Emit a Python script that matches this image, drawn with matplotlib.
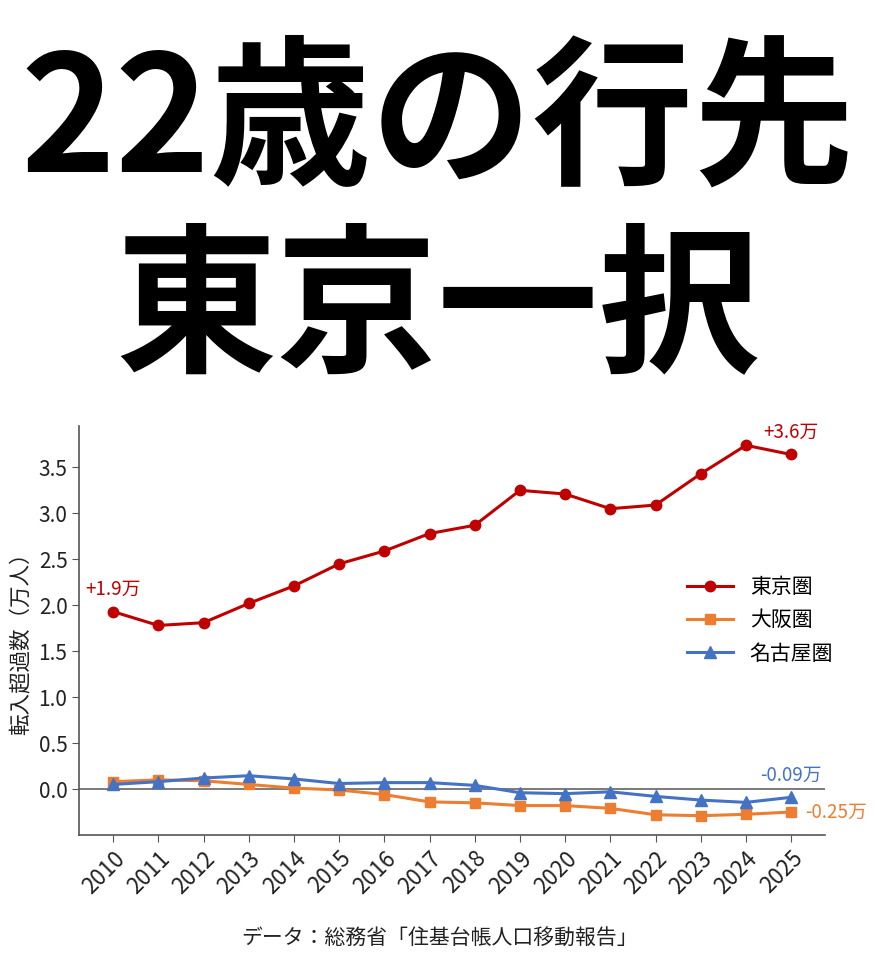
import numpy as np
import matplotlib
matplotlib.use("Agg")
import matplotlib.pyplot as plt

plt.rcParams['font.family'] = ['Noto Sans CJK JP', 'DejaVu Sans']

## data (unit: 10,000 people)
years = list(range(2010, 2026))
tokyo = [1.93, 1.78, 1.81, 2.02, 2.21, 2.45, 2.59, 2.78, 2.87, 3.25, 3.21, 3.05, 3.09, 3.43, 3.74, 3.64]
osaka = [0.08, 0.10, 0.09, 0.05, 0.01, -0.01, -0.06, -0.14, -0.15, -0.18, -0.18, -0.21, -0.28, -0.29, -0.275, -0.25]
nagoya = [0.05, 0.08, 0.12, 0.145, 0.11, 0.06, 0.07, 0.07, 0.04, -0.04, -0.05, -0.03, -0.08, -0.12, -0.145, -0.09]
series_names = ['東京圏', '大阪圏', '名古屋圏']
title_lines = ['22歳の行先', '東京一択']
ylabel = '転入超過数（万人）'
source = 'データ：総務省「住基台帳人口移動報告」'

RED = '#C00000'
ORANGE = '#ED7D31'
BLUE = '#4472C4'

fig = plt.figure(figsize=(8.75, 9.67), dpi=100)

## big headline
fig.text(0.5, 1 - 124/967, title_lines[0], ha='center', va='center', fontsize=116, fontweight='bold', color='black')
fig.text(0.5, 1 - 312/967, title_lines[1], ha='center', va='center', fontsize=116, fontweight='bold', color='black')

ax = fig.add_axes([79.3/875, 1 - 835/967, (825 - 79.3)/875, (835 - 426)/967])
ax.axhline(0, color='#707070', lw=1.3, zorder=1)
ax.plot(years, tokyo, color=RED, marker='o', ms=7.5, lw=2.2, label=series_names[0], zorder=3)
ax.plot(years, osaka, color=ORANGE, marker='s', ms=7.5, lw=2.2, label=series_names[1], zorder=3)
ax.plot(years, nagoya, color=BLUE, marker='^', ms=8, lw=2.2, label=series_names[2], zorder=3)

ax.set_xlim(2009.25, 2025.75)
ax.set_ylim(-0.5, 3.95)
ax.set_xticks(years)
ax.set_xticklabels([str(y) for y in years], rotation=45, ha='right', rotation_mode='anchor', fontsize=16)
ax.set_yticks(np.arange(0, 3.51, 0.5))
ax.set_yticklabels(['%.1f' % v for v in np.arange(0, 3.51, 0.5)], fontsize=15)
ax.tick_params(colors='#222222', length=5, color='#555555')
for s in ['top', 'right']:
	ax.spines[s].set_visible(False)
for s in ['left', 'bottom']:
	ax.spines[s].set_color('#555555')
	ax.spines[s].set_linewidth(1.2)
ax.set_ylabel(ylabel, fontsize=15.5, color='#222222')
ax.yaxis.set_label_coords(-47/745.7, 0.48)

## end labels
ax.annotate('+%.1f万' % tokyo[0], (years[0], tokyo[0]), xytext=(0, 16), textcoords='offset points',
	ha='center', va='center', color=RED, fontsize=13.5)
ax.annotate('+%.1f万' % tokyo[-1], (years[-1], tokyo[-1]), xytext=(0, 16), textcoords='offset points',
	ha='center', va='center', color=RED, fontsize=13.5)
ax.annotate('%.2f万' % nagoya[-1], (years[-1], nagoya[-1]), xytext=(0, 16), textcoords='offset points',
	ha='center', va='center', color=BLUE, fontsize=13.5)
ax.annotate('%.2f万' % osaka[-1], (years[-1], osaka[-1]), xytext=(10, 0), textcoords='offset points',
	ha='left', va='center', color=ORANGE, fontsize=13.5, annotation_clip=False)

ax.legend(loc='center left', bbox_to_anchor=(0.79, 0.525), frameon=False, fontsize=15,
	handlelength=2.2, labelspacing=0.55)

fig.text(440/875, 1 - 938/967, source, ha='center', va='center', fontsize=15, color='#222222')

fig.savefig('out.png', dpi=100)
